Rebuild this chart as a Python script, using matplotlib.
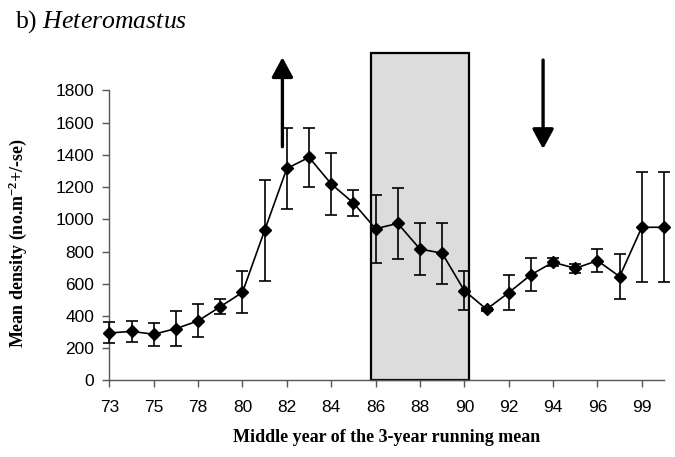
import matplotlib
matplotlib.use("Agg")
import matplotlib.pyplot as plt
from matplotlib.patches import Rectangle
import numpy as np

# Heteromastus: 3-year running means of density with standard errors
years = ["73", "74", "75", "77", "78", "79", "80", "81", "82", "83", "84", "85", "86",
         "87", "88", "89", "90", "91", "92", "93", "94", "95", "96", "97", "99", "00"]
mean_density = [295, 305, 287, 322, 370, 458, 547, 932, 1316, 1385, 1220, 1102, 942,
                975, 816, 790, 558, 442, 545, 656, 734, 696, 744, 645, 951, 951]
se_density = [65, 63, 72, 108, 102, 47, 130, 312, 250, 182, 195, 80, 210,
              218, 160, 188, 120, 8, 110, 102, 26, 27, 72, 142, 340, 340]

# shaded period and arrow annotations (category index, density)
shade_span = (11.8, 16.2)
shade_top = 2035
up_arrow = (7.8, 1451, 2006)
down_arrow = (19.55, 1989, 1437)

plt.rcParams["mathtext.fontset"] = "custom"
plt.rcParams["mathtext.rm"] = "Liberation Serif"
plt.rcParams["mathtext.it"] = "Liberation Serif:italic"
plt.rcParams["mathtext.bf"] = "Liberation Serif:bold"

fig = plt.figure(figsize=(6.75, 4.57), dpi=100)
ax = fig.add_axes([0.162, 0.1674, 0.8217, 0.6346])

x = np.arange(len(years))

ax.add_patch(Rectangle((shade_span[0], 0), shade_span[1] - shade_span[0], shade_top,
                       facecolor="#dcdcdc", edgecolor="black", linewidth=1.6,
                       clip_on=False, zorder=1))

ax.errorbar(x, mean_density, yerr=se_density, color="black", linewidth=1.2,
            elinewidth=1.2, capsize=4.3, capthick=1.2, marker="D", markersize=6.5,
            markerfacecolor="black", markeredgecolor="black", zorder=3, clip_on=False)

for ax_x, y0, y1 in (up_arrow, down_arrow):
    ax.annotate("", xy=(ax_x, y1), xytext=(ax_x, y0),
                arrowprops=dict(arrowstyle="-|>,head_length=1.2,head_width=0.65",
                                mutation_scale=10, lw=2.4, color="black",
                                shrinkA=0, shrinkB=0),
                annotation_clip=False, zorder=4)

ax.set_xlim(0, len(years) - 1)
ax.set_ylim(0, 1800)
ax.set_yticks(np.arange(0, 1801, 200))
ax.set_xticks(x[::2])
ax.set_xticklabels(years[::2])

for side in ("top", "right"):
    ax.spines[side].set_visible(False)
for side in ("left", "bottom"):
    ax.spines[side].set_color("#555555")
    ax.spines[side].set_linewidth(1.0)

ax.tick_params(axis="both", direction="out", length=5, width=1.0, color="#555555",
               labelsize=12.5, labelcolor="black")
ax.tick_params(axis="x", pad=9)
ax.tick_params(axis="y", pad=6)
for lab in ax.get_xticklabels() + ax.get_yticklabels():
    lab.set_fontfamily("Liberation Sans")

fig.text(0.573, 0.043, "Middle year of the 3-year running mean", ha="center", va="center",
         fontfamily="Liberation Serif", fontweight="bold", fontsize=13)
fig.text(0.026, 0.468, r"Mean density (no.m$^{\mathbf{-2}}$+/-se)", rotation=90,
         ha="center", va="center", fontfamily="Liberation Serif", fontweight="bold",
         fontsize=13)
fig.text(0.022, 0.953, r"b) $\mathit{Heteromastus}$", ha="left", va="center",
         fontfamily="Liberation Serif", fontsize=18.5)

fig.savefig("out.png", dpi=100)
